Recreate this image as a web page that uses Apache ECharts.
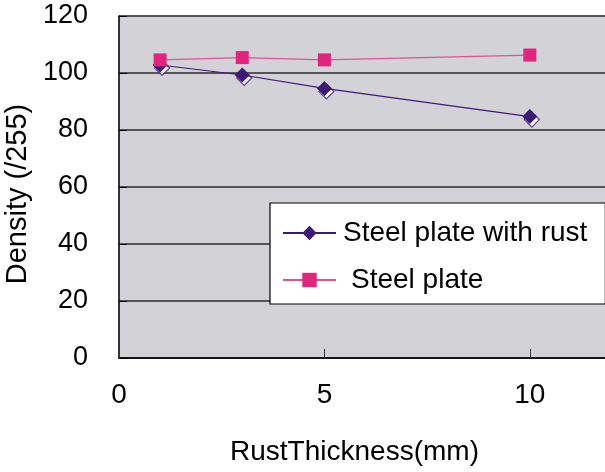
<!DOCTYPE html>
<html>
<head>
<meta charset="utf-8">
<script src="https://cdn.jsdelivr.net/npm/echarts@6/dist/echarts.min.js"></script>
<style>
html, body { margin: 0; padding: 0; background: #fff; }
#chart { width: 605px; height: 472px; }
</style>
</head>
<body>
<div id="chart"></div>
<script>
// Rust thickness (mm) at each measurement
const thickness = [1, 3, 5, 10];
// Density readings (/255)
const rustedPlate = [102.8, 99.3, 94.6, 84.7];
const barePlate = [104.6, 105.4, 104.6, 106.3];
const xTicks = [0, 5, 10];
const yTicks = [0, 20, 40, 60, 80, 100, 120];

const purple = '#3d1a7a';
const pink = '#e3247f';
const font = 'Liberation Sans, Arial, sans-serif';

const pairs = (xs, ys) => xs.map((x, i) => [x, ys[i]]);

const chart = echarts.init(document.getElementById('chart'), null, { renderer: 'canvas' });
chart.setOption({
  animation: false,
  backgroundColor: '#ffffff',
  grid: {
    left: 119, top: 16, right: -7, bottom: 114,
    containLabel: false, outerBoundsMode: 'none',
    show: true, backgroundColor: '#d3d2d7', borderColor: '#b0b0b0', borderWidth: 1
  },
  legend: {
    left: 270, top: 203,
    orient: 'vertical',
    backgroundColor: '#ffffff',
    borderColor: '#000', borderWidth: 1.2,
    padding: [16, 18, 10, 12],
    itemGap: 19, itemWidth: 53, itemHeight: 18,
    textStyle: { fontFamily: font, fontSize: 28, lineHeight: 28, color: '#000', padding: [0, 0, 0, 2] },
    data: [
      { name: 'Steel plate with rust' },
      { name: 'Steel plate', textStyle: { padding: [0, 0, 0, 10] } }
    ]
  },
  xAxis: {
    type: 'value', min: 0, max: 12, interval: 5,
    name: 'RustThickness(mm)', nameLocation: 'middle', nameGap: 80,
    nameTextStyle: { fontFamily: font, fontSize: 28, color: '#000', padding: [0, 22, 0, 0] },
    axisLine: { onZero: false, lineStyle: { color: '#000', width: 1.5 } },
    axisTick: { show: true, inside: true, length: 9, lineStyle: { color: '#333', width: 1 } },
    axisLabel: { fontFamily: font, fontSize: 28, color: '#000', margin: 23, showMaxLabel: false,
      formatter: v => xTicks.includes(v) ? String(v) : '' },
    splitLine: { show: false }
  },
  yAxis: {
    type: 'value', min: 0, max: 120, interval: 20,
    name: 'Density (/255)', nameLocation: 'middle', nameGap: 79,
    nameTextStyle: { fontFamily: font, fontSize: 29, color: '#000', padding: [0, 14, 0, 0] },
    axisLine: { show: true, lineStyle: { color: '#000', width: 1.5 } },
    axisTick: { show: true, inside: true, length: 8, lineStyle: { color: '#000', width: 1 } },
    axisLabel: { fontFamily: font, fontSize: 27, color: '#000', margin: 31,
      formatter: v => yTicks.includes(v) ? String(v) : '' },
    splitLine: { show: true, lineStyle: { color: '#555', width: 2 } }
  },
  series: [
    {
      name: 'Steel plate with rust', type: 'line', z: 3,
      data: pairs(thickness, rustedPlate),
      symbol: 'diamond', symbolSize: 15,
      lineStyle: { color: purple, width: 1.2 },
      itemStyle: { color: purple, borderWidth: 0 }
    },
    {
      // offset outline under each diamond
      name: 'Steel plate with rust', type: 'scatter', z: 2,
      data: pairs(thickness, rustedPlate),
      symbol: 'diamond', symbolSize: 15, symbolOffset: [2, 3],
      itemStyle: { color: '#ffffff', borderColor: purple, borderWidth: 1.2 }
    },
    {
      name: 'Steel plate', type: 'line', z: 4,
      data: pairs(thickness, barePlate),
      symbol: 'rect', symbolSize: 13,
      lineStyle: { color: '#e2509a', width: 1.2 },
      itemStyle: { color: pink, borderWidth: 0 }
    }
  ]
});
</script>
</body>
</html>
